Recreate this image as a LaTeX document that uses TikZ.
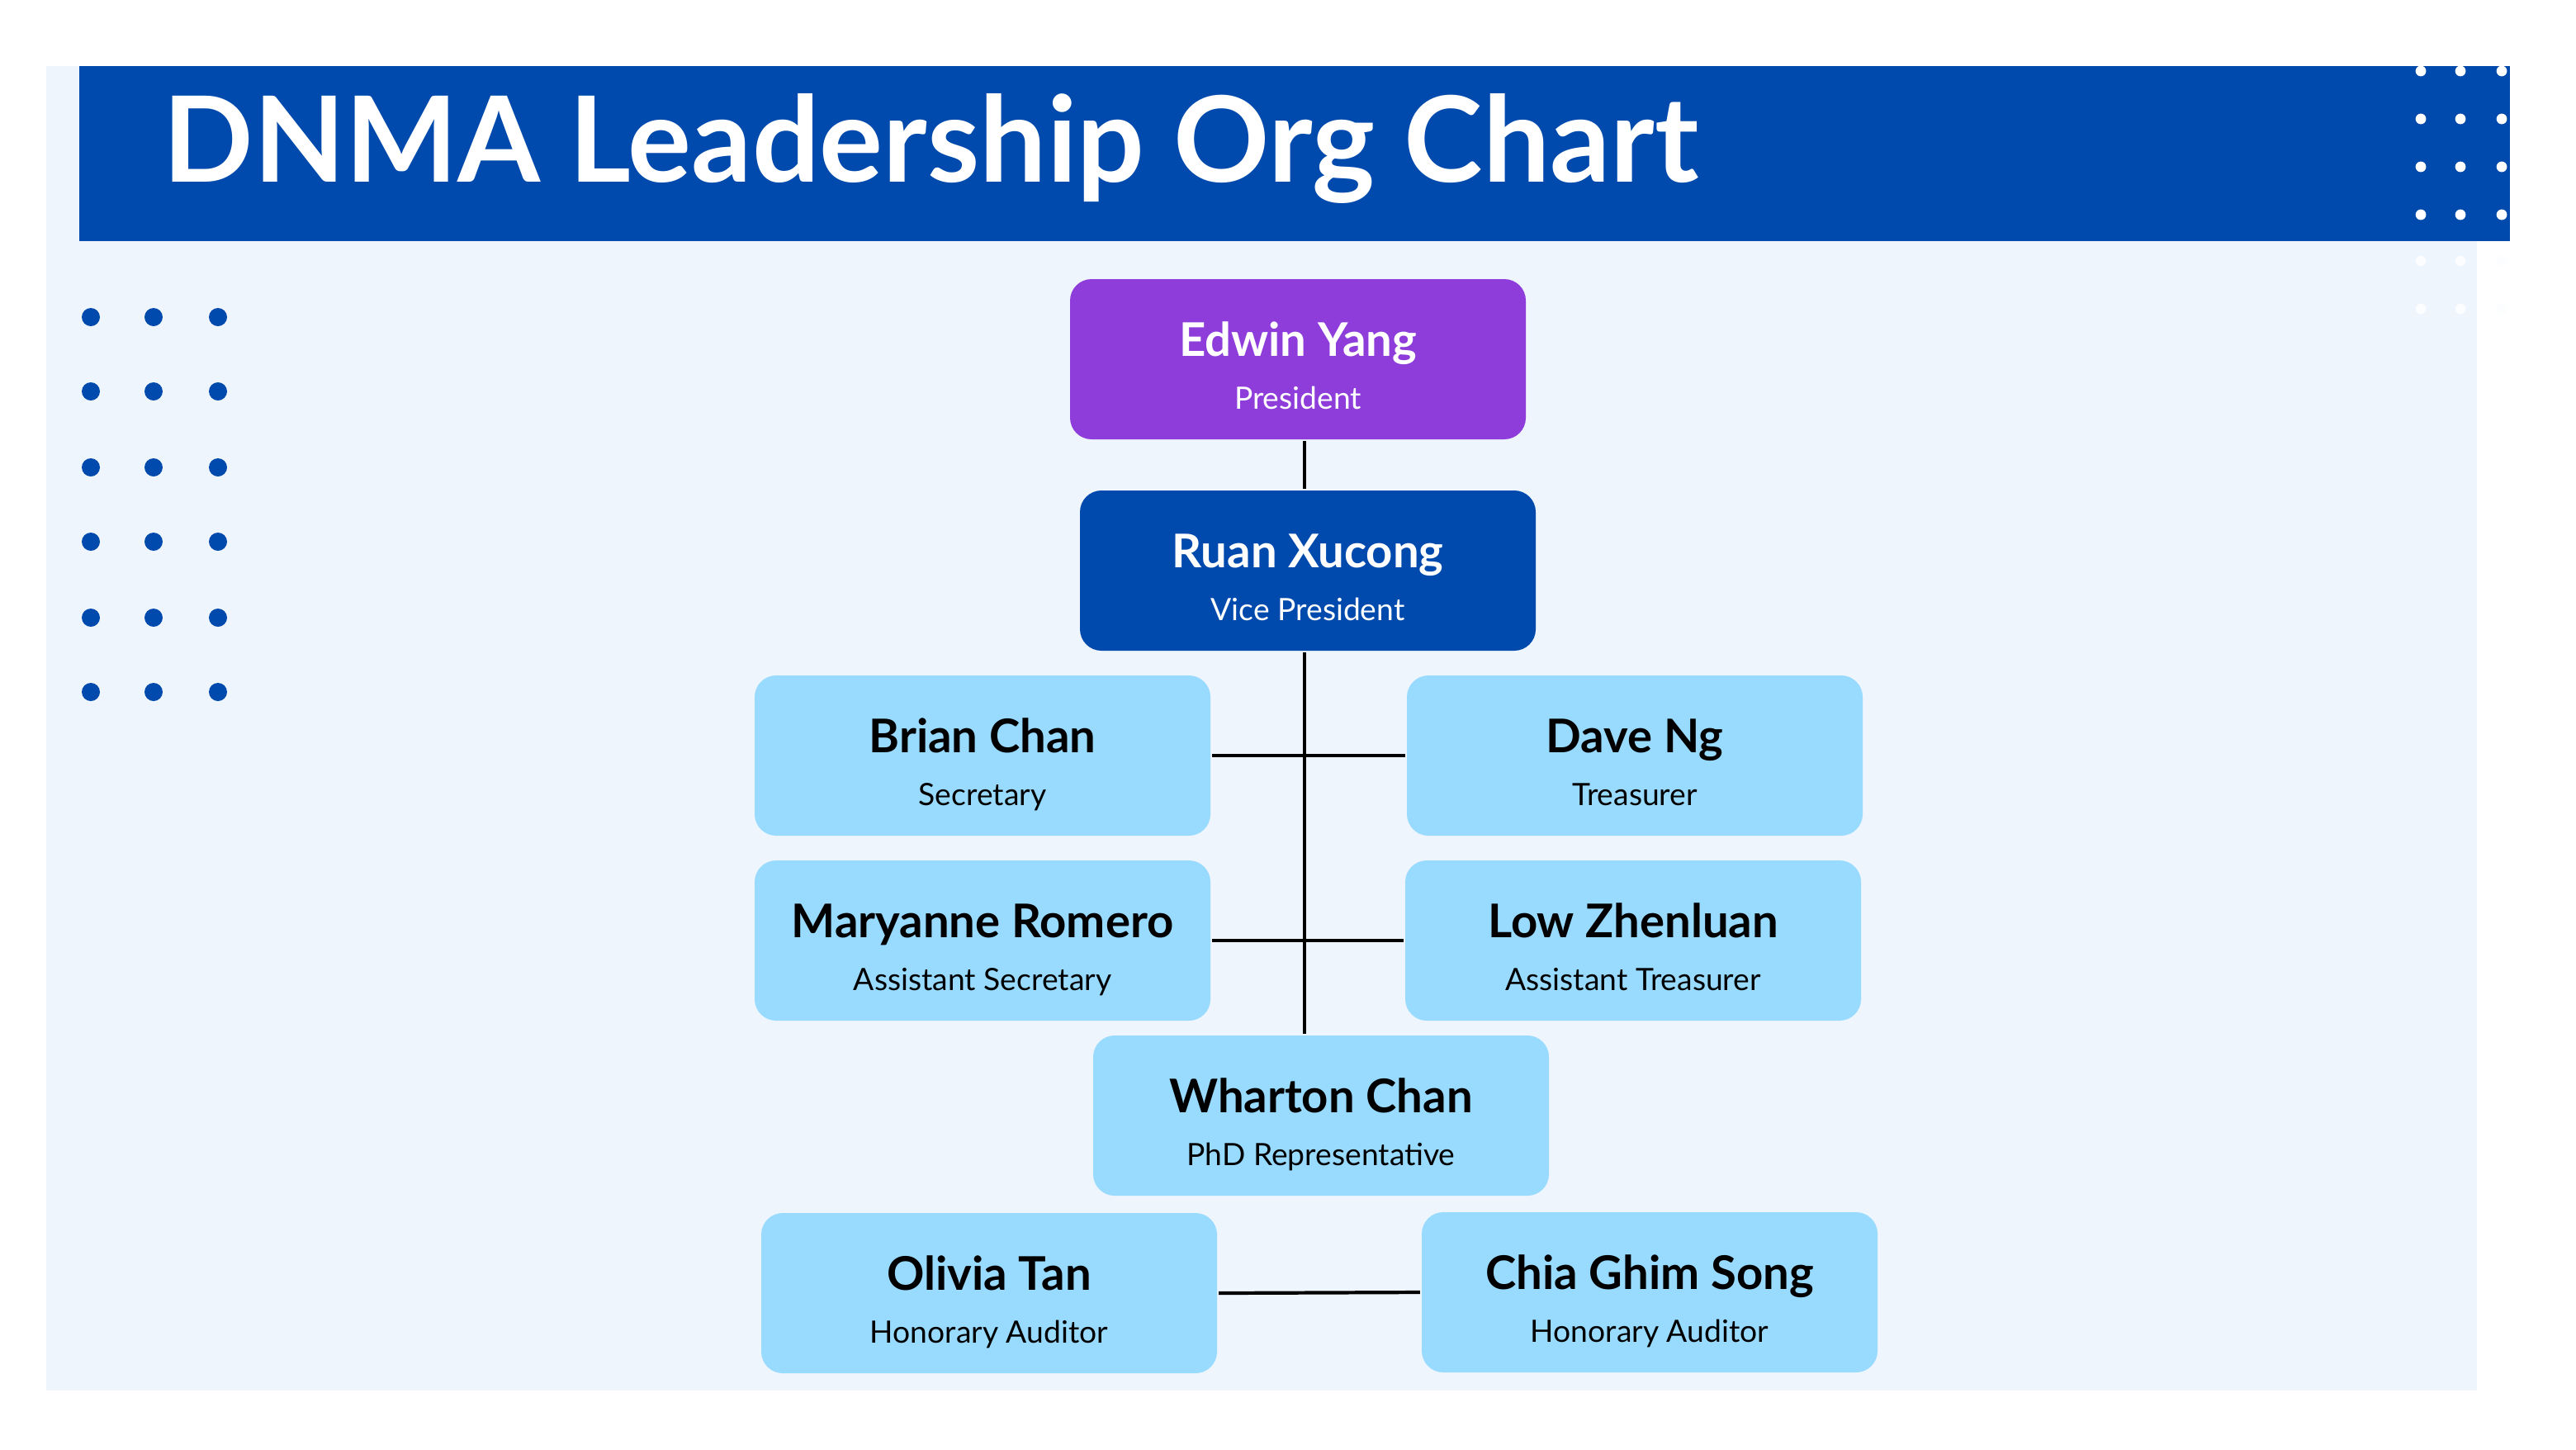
\documentclass[tikz,border=0pt]{standalone}
\usepackage{fontspec}
\setmainfont{Lato}
\usetikzlibrary{positioning}
\definecolor{bannerblue}{HTML}{004AAD}
\definecolor{panelblue}{HTML}{EEF5FD}
\definecolor{chairpurple}{HTML}{8E3DDB}
\definecolor{memberblue}{HTML}{99DBFF}
\tikzset{
  member/.style={rectangle, rounded corners=0.13cm, minimum width=2.76cm, minimum height=0.97cm, inner sep=0pt},
  pname/.style={font=\bfseries\fontsize{8}{9}\selectfont},
  prole/.style={font=\fontsize{5.3}{6}\selectfont},
}
\newcommand{\person}[6]{%
  \node[member, fill=#2] (#1) at (#4) {};
  \node[pname, text=#3, anchor=base] at ([yshift=0.02cm]#1.center) {#5};
  \node[prole, text=#3, anchor=base] at ([yshift=-0.3cm]#1.center) {#6};
}
\begin{document}
\begin{tikzpicture}[y=-1cm, semithick]
\useasboundingbox (0,0) rectangle (15.6,8.775);
\fill[white] (0,0) rectangle (15.6,8.775);
\fill[panelblue] (0.28,0.4) rectangle (15,8.42);
\fill[bannerblue] (0.48,0.4) rectangle (15.2,1.46);
\node[anchor=west, text=white, font=\bfseries\fontsize{20.5}{24}\selectfont] (title) at (0.86,0.9) {DNMA Leadership Org Chart};

% dots
\foreach \x in {0.55,0.93,1.32}
  \foreach \y in {1.92,2.37,2.83,3.28,3.74,4.19}
    \fill[bannerblue] (\x,\y) circle (0.055);
\foreach \x in {14.66,14.9,15.15}
  \foreach \y in {0.43,0.72,1.01,1.3}
    \fill[white] (\x,\y) circle (0.032);
\foreach \x in {14.66,14.9,15.15}
  \foreach \y in {1.58,1.87}
    \fill[white!80!panelblue] (\x,\y) circle (0.032);

% boxes
\person{pres}{chairpurple}{white}{7.86,2.175}{Edwin Yang}{President}
\person{vp}{bannerblue}{white}{7.92,3.455}{Ruan Xucong}{Vice President}
\person{sec}{memberblue}{black}{5.95,4.575}{Brian Chan}{Secretary}
\person{tre}{memberblue}{black}{9.9,4.575}{Dave Ng}{Treasurer}
\person{asec}{memberblue}{black}{5.95,5.695}{Maryanne Romero}{Assistant Secretary}
\person{atre}{memberblue}{black}{9.89,5.695}{Low Zhenluan}{Assistant Treasurer}
\person{phd}{memberblue}{black}{8.0,6.755}{Wharton Chan}{PhD Representative}
\person{aud}{memberblue}{black}{5.99,7.83}{Olivia Tan}{Honorary Auditor}
\person{audb}{memberblue}{black}{9.99,7.825}{Chia Ghim Song}{Honorary Auditor}

% links
\draw (pres.south -| 7.9,0) -- (vp.north -| 7.9,0);
\draw (vp.south -| 7.9,0) -- (phd.north -| 7.9,0);
\draw (sec.east) -- (tre.west);
\draw (asec.east) -- (atre.west);
\draw (aud.east) -- (audb.west);
\end{tikzpicture}
\end{document}
